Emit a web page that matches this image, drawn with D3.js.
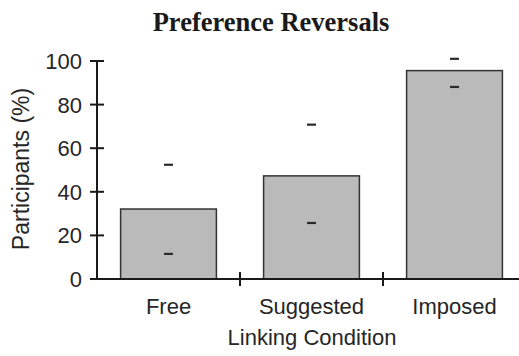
<!DOCTYPE html>
<html>
<head>
<meta charset="utf-8">
<script src="https://cdn.jsdelivr.net/npm/d3@7"></script>
<style>
  body { margin: 0; background: #fff; }
  text { font-family: "Liberation Sans", Arial, sans-serif; fill: #262626; }
</style>
</head>
<body>
<div id="chart"></div>
<script>
// datos
const categories = ["Free", "Suggested", "Imposed"];
const values = [32.1, 47.3, 95.6];
const lowerCI = [11.5, 25.7, 88.1];
const upperCI = [52.4, 70.8, 101];
const yTicks = [0, 20, 40, 60, 80, 100];

const width = 519, height = 356;

const svg = d3.select("#chart")
  .append("svg")
  .attr("width", width)
  .attr("height", height);

const x = d3.scaleBand()
  .domain(categories)
  .range([97, 526])
  .padding(0);

const y = d3.scaleLinear()
  .domain([0, 100])
  .range([279, 61]);

const barW = x.bandwidth() * 0.67;

// título
svg.append("text")
  .attr("x", 271)
  .attr("y", 31)
  .attr("text-anchor", "middle")
  .style("font-family", "'Liberation Serif', 'Times New Roman', serif")
  .style("font-weight", "bold")
  .style("font-size", "26.5px")
  .style("fill", "#1a1a1a")
  .text("Preference Reversals");

// barras
svg.append("g")
  .selectAll("rect")
  .data(categories)
  .enter().append("rect")
  .attr("x", d => x(d) + (x.bandwidth() - barW) / 2)
  .attr("y", (d, i) => y(values[i]))
  .attr("width", barW)
  .attr("height", (d, i) => y(0) - y(values[i]))
  .attr("fill", "#bababa")
  .attr("stroke", "#333")
  .attr("stroke-width", 1.5);

// marcas de intervalo
const marks = svg.append("g");
categories.forEach((c, i) => {
  [lowerCI[i], upperCI[i]].forEach(v => {
    marks.append("line")
      .attr("x1", x(c) + x.bandwidth() / 2 - 4.5)
      .attr("x2", x(c) + x.bandwidth() / 2 + 4.5)
      .attr("y1", y(v))
      .attr("y2", y(v))
      .attr("stroke", "#2a2a2a")
      .attr("stroke-width", 2.2);
  });
});

// eje y
const yAxis = svg.append("g").attr("transform", "translate(97,0)");
yAxis.append("line")
  .attr("y1", y(100)).attr("y2", y(0))
  .attr("stroke", "#1a1a1a").attr("stroke-width", 2);
yAxis.selectAll(".tick")
  .data(yTicks)
  .enter().append("line")
  .attr("x1", -7).attr("x2", 7)
  .attr("y1", d => y(d)).attr("y2", d => y(d))
  .attr("stroke", "#1a1a1a").attr("stroke-width", 2);
yAxis.selectAll(".lbl")
  .data(yTicks)
  .enter().append("text")
  .attr("x", -15)
  .attr("y", d => y(d))
  .attr("dy", "0.36em")
  .attr("text-anchor", "end")
  .style("font-size", "22px")
  .text(d => d);

// eje x
const xAxis = svg.append("g");
xAxis.append("line")
  .attr("x1", 90).attr("x2", width)
  .attr("y1", y(0)).attr("y2", y(0))
  .attr("stroke", "#1a1a1a").attr("stroke-width", 2);
xAxis.selectAll(".tick")
  .data(categories.slice(1))
  .enter().append("line")
  .attr("x1", d => x(d)).attr("x2", d => x(d))
  .attr("y1", y(0) - 7).attr("y2", y(0) + 7)
  .attr("stroke", "#1a1a1a").attr("stroke-width", 2);
xAxis.selectAll(".lbl")
  .data(categories)
  .enter().append("text")
  .attr("x", d => x(d) + x.bandwidth() / 2)
  .attr("y", 314)
  .attr("text-anchor", "middle")
  .style("font-size", "22px")
  .text(d => d);

// títulos de ejes
svg.append("text")
  .attr("x", 312)
  .attr("y", 345)
  .attr("text-anchor", "middle")
  .style("font-size", "22px")
  .text("Linking Condition");

svg.append("text")
  .attr("transform", "translate(29,169) rotate(-90)")
  .attr("text-anchor", "middle")
  .style("font-size", "23px")
  .text("Participants (%)");
</script>
</body>
</html>
